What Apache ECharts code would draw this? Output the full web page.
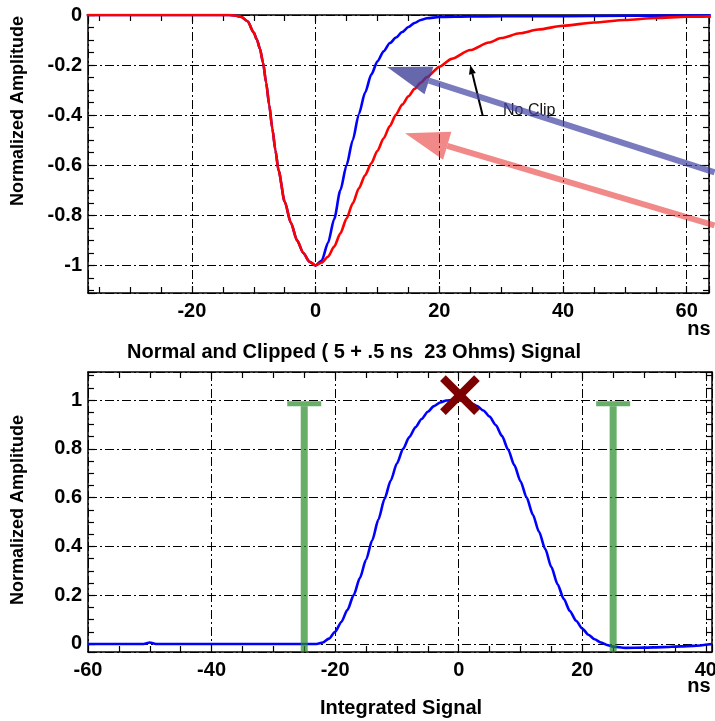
<!DOCTYPE html>
<html>
<head>
<meta charset="utf-8">
<script src="https://cdn.jsdelivr.net/npm/echarts@6/dist/echarts.min.js"></script>
<style>
  html, body { margin: 0; padding: 0; background: #fff; }
  #chart { width: 715px; height: 721px; }
</style>
</head>
<body>
<div id="chart"></div>
<script>
// ---- Upper panel: normal and clipped pulse shapes (time in ns) ----
const normalT = [-37, -14, -13, -12, -11, -10, -9.5, -9, -8.5, -8, -7.5, -7, -6.5, -6, -5, -4, -3, -2, -1, 0,
  1, 2, 3, 4, 5, 6, 7, 8, 9, 10, 11, 12, 13, 14, 15, 16, 17, 18, 20, 25, 30, 40, 50, 64.5];
const normalV = [0, 0, -0.002, -0.008, -0.025, -0.07, -0.098, -0.135, -0.19, -0.27, -0.36, -0.453, -0.54, -0.62, -0.745, -0.83, -0.90, -0.95, -0.985, -1.0,
  -0.98, -0.91, -0.815, -0.70, -0.60, -0.50, -0.395, -0.31, -0.238, -0.185, -0.145, -0.112, -0.09, -0.068, -0.048, -0.032, -0.02, -0.013,
  -0.008, -0.006, -0.005, -0.005, -0.003, -0.002];

const clippedT = [-37, -14, -13, -12, -11, -10, -9.5, -9, -8.5, -8, -7.5, -7, -6.5, -6, -5, -4, -3, -2, -1, 0,
  1, 2, 3, 4, 5, 6, 7, 8, 9, 10, 11, 12, 13, 14, 15, 16, 17, 18,
  20, 22, 25, 28, 30, 33, 36, 40, 45, 50, 55, 60, 64.5];
const clippedV = [0, 0, -0.002, -0.008, -0.025, -0.07, -0.098, -0.135, -0.19, -0.27, -0.36, -0.453, -0.54, -0.62, -0.745, -0.83, -0.90, -0.95, -0.985, -1.0,
  -0.988, -0.965, -0.925, -0.872, -0.813, -0.752, -0.692, -0.64, -0.592, -0.542, -0.492, -0.443, -0.397, -0.358, -0.325, -0.295, -0.27, -0.248,
  -0.207, -0.175, -0.14, -0.11, -0.092, -0.073, -0.058, -0.043, -0.03, -0.02, -0.012, -0.007, -0.005];

// ---- Lower panel: integrated signal ----
const integT = [-60, -51, -50, -49, -23, -22, -21, -20, -19, -18, -17, -16, -15, -14, -13, -12, -11, -10, -9, -8, -7, -6, -5, -4, -3, -2, -1,
  0, 1, 2, 3, 4, 5, 6, 7, 8, 9, 10, 11, 12, 13, 14, 15, 16, 17, 18, 19, 20, 21, 22, 23, 24, 25, 27, 30, 33, 36, 38, 41];
const integV = [0, 0, 0.006, 0, 0, 0.006, 0.022, 0.05, 0.09, 0.14, 0.2, 0.27, 0.345, 0.425, 0.51, 0.595, 0.67, 0.74, 0.80, 0.848, 0.888, 0.922, 0.952, 0.975, 0.99, 0.998, 1.0,
  0.999, 0.995, 0.987, 0.975, 0.957, 0.932, 0.898, 0.853, 0.797, 0.733, 0.667, 0.6, 0.53, 0.46, 0.39, 0.315, 0.245, 0.185, 0.135, 0.095, 0.063, 0.038, 0.019, 0.006, -0.004, -0.011, -0.016, -0.015, -0.013, -0.01, -0.008, 0];

// integration gate edges and their height
const gateT = [-25, 25];
const gateV = [0.985, 0.985];
// peak of the integrated signal
const peakT = [0.2];
const peakV = [1.02];

// annotation arrows on the upper panel: "No Clip" pointer, clipped, normal
const arrowFromT = [27.0, 64.5, 64.5];
const arrowFromV = [-0.40, -0.84, -0.628];
const arrowToT = [25.0, 14.46, 11.55];
const arrowToV = [-0.20, -0.472, -0.208];
const noteText = 'No Clip';
const noteT = 30.3;
const noteV = -0.38;

// ---- styling ----
const FONT = '"Liberation Sans", Arial, Helvetica, sans-serif';
const DASH_DOT = [9, 3, 2, 3];
const GATE_COLOR = 'rgba(40,140,40,0.7)';
const PEAK_COLOR = '#7d0000';
const ARROW_STYLE = [
  { stroke: '#000', fill: '#000', width: 2, headLen: 9, headHalf: 3.5 },
  { stroke: 'rgba(230,40,40,0.55)', fill: 'rgba(230,40,40,0.55)', width: 6, headLen: 44, headHalf: 14.5 },
  { stroke: 'rgba(70,70,165,0.72)', fill: 'rgba(60,60,150,0.78)', width: 6, headLen: 44, headHalf: 14.5 }
];

const zip = (a, b) => a.map((v, i) => [v, b[i]]);

const TICK = { show: true, inside: true, length: 7, lineStyle: { color: '#000', width: 1.2 } };
const MINOR = { show: true, splitNumber: 4, length: 6, lineStyle: { color: '#000', width: 1.2 } };
const BORDER = { show: true, onZero: false, lineStyle: { color: '#000', width: 1.5 } };

function mainX(gridIndex, min, max, showMin) {
  return {
    type: 'value', gridIndex, min, max, position: 'bottom',
    axisLine: BORDER, axisTick: TICK, minorTick: MINOR,
    axisLabel: { show: true, color: '#000', fontFamily: FONT, fontWeight: 'bold', fontSize: 20, margin: 8,
      showMinLabel: showMin, showMaxLabel: false },
    splitLine: { show: true, lineStyle: { color: '#000', width: 1, type: DASH_DOT } }
  };
}
function mirrorX(gridIndex, min, max) {
  return {
    type: 'value', gridIndex, min, max, position: 'top',
    axisLine: BORDER, axisTick: TICK, minorTick: MINOR,
    axisLabel: { show: false }, splitLine: { show: false }
  };
}
function mainY(gridIndex, min, max, showMax) {
  return {
    type: 'value', gridIndex, min, max, position: 'left',
    axisLine: BORDER, axisTick: TICK, minorTick: MINOR,
    axisLabel: { show: true, color: '#000', fontFamily: FONT, fontWeight: 'bold', fontSize: 20, margin: 6,
      showMinLabel: false, showMaxLabel: showMax },
    splitLine: { show: true, lineStyle: { color: '#000', width: 1, type: DASH_DOT } }
  };
}
function mirrorY(gridIndex, min, max) {
  return {
    type: 'value', gridIndex, min, max, position: 'right',
    axisLine: BORDER, axisTick: TICK, minorTick: MINOR,
    axisLabel: { show: false }, splitLine: { show: false }
  };
}

function textEl(text, x, y, size, weight, rotation) {
  return {
    type: 'text', x, y, rotation: rotation || 0,
    style: { text, fill: '#000', font: weight + ' ' + size + 'px ' + FONT, align: 'center', verticalAlign: 'middle' }
  };
}

const chart = echarts.init(document.getElementById('chart'), null, { renderer: 'canvas' });

const curveStyle = (color) => ({ color, width: 2.6 });

chart.setOption({
  animation: false,
  backgroundColor: '#fff',
  grid: [
    { left: 88, top: 15, width: 621, height: 278, outerBoundsMode: 'none', containLabel: false },
    { left: 88, top: 372, width: 624, height: 280, outerBoundsMode: 'none', containLabel: false }
  ],
  xAxis: [
    mainX(0, -36.8, 63.6, false),
    mirrorX(0, -36.8, 63.6),
    mainX(1, -60, 41, true),
    mirrorX(1, -60, 41)
  ],
  yAxis: [
    mainY(0, -1.11, 0, true),
    mirrorY(0, -1.11, 0),
    mainY(1, -0.033, 1.115, false),
    mirrorY(1, -0.033, 1.115)
  ],
  graphic: [
    textEl('Normalized Amplitude', 18, 111, 18, 'bold', Math.PI / 2),
    textEl('Normalized Amplitude', 18, 510, 18, 'bold', Math.PI / 2),
    textEl('Normal and Clipped ( 5 + .5 ns  23 Ohms) Signal', 354, 352, 20, 'bold'),
    textEl('Integrated Signal', 401, 708, 20, 'bold'),
    textEl('ns', 699, 329, 20, 'bold'),
    textEl('ns', 699, 686, 20, 'bold')
  ],
  series: [
    {
      name: 'Normal', type: 'line', xAxisIndex: 0, yAxisIndex: 0,
      data: zip(normalT, normalV), showSymbol: false, z: 3,
      smooth: 0.25, smoothMonotone: 'x',
      lineStyle: curveStyle('#0000ff')
    },
    {
      name: 'Clipped', type: 'line', xAxisIndex: 0, yAxisIndex: 0,
      data: zip(clippedT, clippedV), showSymbol: false, z: 4,
      smooth: 0.25, smoothMonotone: 'x',
      lineStyle: curveStyle('#ff0000')
    },
    {
      name: 'Arrows', type: 'custom', xAxisIndex: 0, yAxisIndex: 0, clip: false, z: 6,
      dimensions: ['x0', 'y0', 'x1', 'y1'],
      encode: { x: [0, 2], y: [1, 3] },
      data: arrowFromT.map((t, i) => [t, arrowFromV[i], arrowToT[i], arrowToV[i]]),
      renderItem(params, api) {
        const s = ARROW_STYLE[params.dataIndex];
        const p0 = api.coord([api.value(0), api.value(1)]);
        const p1 = api.coord([api.value(2), api.value(3)]);
        const dx = p1[0] - p0[0], dy = p1[1] - p0[1];
        const len = Math.hypot(dx, dy);
        const ux = dx / len, uy = dy / len;
        const nx = -uy, ny = ux;
        const bx = p1[0] - ux * s.headLen, by = p1[1] - uy * s.headLen;
        const children = [];
        if (params.dataIndex === 0) {
          const pn = api.coord([noteT, noteV]);
          children.push({
            type: 'text', x: pn[0], y: pn[1],
            style: { text: noteText, fill: '#111', font: '16px ' + FONT, align: 'left', verticalAlign: 'middle' }
          });
        }
        children.push({
          type: 'line', shape: { x1: p0[0], y1: p0[1], x2: bx, y2: by },
          style: { stroke: s.stroke, lineWidth: s.width, lineCap: 'butt' }
        });
        children.push({
          type: 'polygon',
          shape: { points: [[p1[0], p1[1]], [bx + nx * s.headHalf, by + ny * s.headHalf], [bx - nx * s.headHalf, by - ny * s.headHalf]] },
          style: { fill: s.fill }
        });
        return { type: 'group', children };
      }
    },
    {
      name: 'Integrated', type: 'line', xAxisIndex: 2, yAxisIndex: 2,
      data: zip(integT, integV), showSymbol: false, z: 3,
      smooth: 0.25, smoothMonotone: 'x',
      lineStyle: curveStyle('#0000ff')
    },
    {
      name: 'Gate', type: 'custom', xAxisIndex: 2, yAxisIndex: 2, clip: false, z: 5,
      data: zip(gateT, gateV),
      renderItem(params, api) {
        const p = api.coord([api.value(0), api.value(1)]);
        const cs = params.coordSys;
        const bottom = cs.y + cs.height;
        const capHalf = 17, capH = 5, barW = 7;
        return {
          type: 'group', children: [
            { type: 'rect', shape: { x: p[0] - capHalf, y: p[1] - capH / 2, width: capHalf * 2, height: capH }, style: { fill: GATE_COLOR } },
            { type: 'rect', shape: { x: p[0] - barW / 2, y: p[1] + capH / 2, width: barW, height: bottom - p[1] - capH / 2 }, style: { fill: GATE_COLOR } }
          ]
        };
      }
    },
    {
      name: 'Peak', type: 'custom', xAxisIndex: 2, yAxisIndex: 2, clip: false, z: 7,
      data: zip(peakT, peakV),
      renderItem(params, api) {
        const c = api.coord([api.value(0), api.value(1)]);
        const r = 17;
        const st = { stroke: PEAK_COLOR, lineWidth: 8, lineCap: 'butt' };
        return {
          type: 'group', children: [
            { type: 'line', shape: { x1: c[0] - r, y1: c[1] - r, x2: c[0] + r, y2: c[1] + r }, style: st },
            { type: 'line', shape: { x1: c[0] - r, y1: c[1] + r, x2: c[0] + r, y2: c[1] - r }, style: st }
          ]
        };
      }
    }
  ]
});
</script>
</body>
</html>
